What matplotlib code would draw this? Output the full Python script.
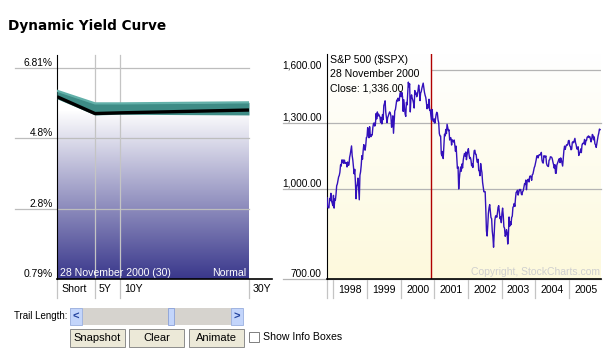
import numpy as np
import pandas as pd
import matplotlib
matplotlib.use('Agg')
import matplotlib.pyplot as plt
from matplotlib.patches import Rectangle
from matplotlib.lines import Line2D
from matplotlib.colors import LinearSegmentedColormap

# ---- yield curve data (percent) ----
tenor_labels = ['Short', '5Y', '10Y', '30Y']
tenor_years = [0.25, 5, 10, 30]
yield_now = [5.99, 5.51, 5.53, 5.61]
trail_high = [6.16, 5.80, 5.80, 5.83]
trail_low = [5.93, 5.47, 5.49, 5.47]
yield_ticks = [6.81, 4.8, 2.8, 0.79]
yield_tick_labels = ['6.81%', '4.8%', '2.8%', '0.79%']

# ---- S&P 500 weekly closes ----
spx_1997 = [966, 932, 928, 928, 963, 955, 983, 953, 946, 936]
spx_1998 = [975, 927, 961, 957, 980, 1013, 1020, 1034, 1049, 1055, 1069, 1100, 1095,
            1122, 1110, 1122, 1107, 1121, 1108, 1108, 1110, 1091, 1113, 1098, 1100, 1133,
            1147, 1165, 1186, 1141, 1121, 1090, 1062, 1081, 1027, 962, 1009, 1020, 1044,
            1002, 958, 1056, 1070, 1098, 1141, 1125, 1164, 1192, 1176, 1166, 1188, 1226, 1229]
spx_1999 = [1275, 1243, 1225, 1280, 1239, 1230, 1240, 1238, 1275, 1295, 1299, 1283,
            1293, 1348, 1320, 1357, 1335, 1345, 1338, 1330, 1302, 1328, 1294, 1343, 1316,
            1391, 1403, 1418, 1356, 1329, 1300, 1327, 1336, 1348, 1357, 1351, 1336, 1277,
            1282, 1336, 1247, 1301, 1362, 1370, 1397, 1422, 1417, 1433, 1418, 1421, 1458, 1469]
spx_2000 = [1441, 1465, 1441, 1360, 1424, 1387, 1346, 1333, 1409, 1395, 1464, 1527, 1499,
            1517, 1357, 1434, 1452, 1433, 1421, 1406, 1378, 1477, 1457, 1464, 1441, 1455,
            1478, 1509, 1480, 1419, 1462, 1471, 1491, 1507, 1521, 1495, 1466, 1449, 1437,
            1408, 1374, 1396, 1379, 1427, 1366, 1367, 1336, 1315, 1370, 1313, 1305, 1320]
spx_2001 = [1298, 1318, 1342, 1355, 1349, 1315, 1301, 1246, 1234, 1233, 1150, 1140, 1160,
            1128, 1183, 1242, 1234, 1266, 1245, 1292, 1277, 1260, 1264, 1214, 1225, 1224,
            1190, 1215, 1210, 1205, 1214, 1190, 1161, 1185, 1133, 1085, 1092, 1000, 1041,
            1071, 1091, 1073, 1104, 1087, 1120, 1139, 1151, 1139, 1158, 1123, 1145, 1161]
spx_2002 = [1173, 1146, 1128, 1133, 1122, 1096, 1104, 1089, 1132, 1164, 1166, 1148, 1147,
            1122, 1111, 1125, 1076, 1073, 1054, 1106, 1083, 1067, 1027, 1007, 989, 990,
            989, 921, 847, 830, 864, 908, 928, 940, 916, 893, 889, 846, 827, 794, 835, 884,
            897, 900, 894, 909, 930, 936, 912, 889, 895, 875]
spx_2003 = [908, 927, 901, 861, 856, 829, 834, 851, 841, 804, 833, 895, 863, 878, 868,
            893, 898, 930, 933, 944, 933, 964, 987, 988, 995, 976, 985, 998, 994, 998,
            980, 977, 990, 993, 1008, 1021, 1018, 1036, 997, 1029, 1038, 1039, 1028, 1051,
            1053, 1050, 1035, 1058, 1061, 1074, 1088, 1095]
spx_2004 = [1108, 1122, 1140, 1141, 1131, 1142, 1146, 1145, 1145, 1156, 1120, 1110, 1108,
            1141, 1139, 1134, 1140, 1107, 1098, 1095, 1093, 1121, 1123, 1136, 1135, 1134,
            1126, 1112, 1101, 1086, 1101, 1064, 1064, 1099, 1107, 1114, 1123, 1128, 1110,
            1131, 1122, 1108, 1095, 1130, 1166, 1185, 1170, 1183, 1191, 1189, 1194, 1211, 1212]
spx_2005 = [1186, 1184, 1168, 1171, 1203, 1206, 1201, 1211, 1222, 1201, 1190, 1172, 1172,
            1182, 1142, 1152, 1157, 1172, 1155, 1190, 1198, 1197, 1201, 1217, 1191, 1211,
            1212, 1228, 1229, 1234, 1226, 1231, 1220, 1205, 1218, 1241, 1237, 1215, 1229,
            1196, 1191, 1179, 1198, 1220, 1235, 1248, 1268, 1265]
spx_close = spx_1997 + spx_1998 + spx_1999 + spx_2000 + spx_2001 + spx_2002 + spx_2003 + spx_2004 + spx_2005
spx_dates = pd.date_range('1997-10-24', periods=len(spx_close), freq='7D')
marker_date = pd.Timestamp('2000-11-28')
marker_close = 1336.00
years = list(range(1998, 2006))
spx_ticks = [1600, 1300, 1000, 700]

W, H = 615, 356
fig = plt.figure(figsize=(W / 100, H / 100), dpi=100)
fig.patch.set_facecolor('white')
plt.rcParams['font.family'] = ['Liberation Sans', 'DejaVu Sans']

def fx(px):
    return px / W

def fy(py):
    return 1 - py / H

fig.text(fx(8), fy(30), 'Dynamic Yield Curve', fontsize=9.8, fontweight='bold',
         family='DejaVu Sans', va='baseline', ha='left')

# ================= left: yield curve =================
ax = fig.add_axes([fx(57), fy(279), 192 / W, 224 / H])
spacing = [0, 38, 63, 192]
ax.set_xscale('function', functions=(lambda t: np.interp(t, tenor_years, spacing),
                                     lambda p: np.interp(p, spacing, tenor_years)))
ax.set_xlim(tenor_years[0], tenor_years[-1])
ax.set_ylim(0.79, 7.18)
ax.set_facecolor('white')

navy = LinearSegmentedColormap.from_list('yc', ['#ffffff', '#3a388c'])
grad = np.linspace(0, 1, 256).reshape(-1, 1)
ax.imshow(grad, cmap=navy, aspect='auto', extent=[tenor_years[0], tenor_years[-1], 0.79, 5.6],
          origin='upper', zorder=0.5, interpolation='bilinear')
ax.set_xlim(tenor_years[0], tenor_years[-1])
ax.set_ylim(0.79, 7.18)

for v in yield_ticks[:-1]:
    ax.axhline(v, xmin=-42 / 192, xmax=1, color='#bdbdbd', lw=0.9, clip_on=False, zorder=1)
for t in tenor_years[1:3]:
    ax.axvline(t, ymin=-19 / 224, ymax=1, color='#c4c4c4', lw=0.9, clip_on=False, zorder=1)
for t in [tenor_years[0], tenor_years[-1]]:
    ax.axvline(t, ymin=-19 / 224, ymax=0, color='#c4c4c4', lw=0.9, clip_on=False, zorder=1)

ax.fill_between(tenor_years, trail_low, trail_high, color='#3e8c86', zorder=3, lw=0)
ax.plot(tenor_years, trail_high, color='#62b0a9', lw=1.6, zorder=3.2)
ax.plot(tenor_years, yield_now, color='black', lw=2.4, zorder=4, solid_capstyle='butt')

for s in ['top', 'right', 'bottom']:
    ax.spines[s].set_visible(False)
ax.spines['left'].set_color('black')
ax.add_line(Line2D([0, 215 / 192], [0, 0], transform=ax.transAxes, color='black', lw=1.2,
                   clip_on=False, zorder=5))
ax.set_xticks([])
ax.set_yticks(yield_ticks)
ax.set_yticklabels(yield_tick_labels, fontsize=7.4, va='bottom')
ax.tick_params(axis='y', length=0, pad=3)
ax.set_xticks([], minor=True)
for lab, t in zip(tenor_labels, tenor_years):
    ax.annotate(lab, xy=(t, 0), xycoords=('data', 'axes fraction'), xytext=(4, -10),
                textcoords='offset pixels', ha='left', va='center', fontsize=7.6,
                annotation_clip=False)
ax.text(0.015, 0.005, '28 November 2000 (30)', transform=ax.transAxes, color='white',
        fontsize=7.6, ha='left', va='bottom', zorder=6)
ax.text(0.985, 0.005, 'Normal', transform=ax.transAxes, color='white',
        fontsize=7.6, ha='right', va='bottom', zorder=6)

# ================= right: S&P 500 =================
pos = [fx(327), fy(279), 274 / W, 225 / H]
bg = fig.add_axes(pos, zorder=0)
cream = LinearSegmentedColormap.from_list('cr', ['#ffffff', '#fdf9dc'])
bg.imshow(grad, cmap=cream, aspect='auto', extent=[0, 1, 0, 1], origin='upper')
bg.axis('off')

ax2 = fig.add_axes(pos, zorder=1)
ax2.patch.set_alpha(0)
ax2.set_yscale('log')
ax2.set_ylim(700, 1707)
ax2.set_xlim(spx_dates[0], spx_dates[-1] + pd.Timedelta(days=10))
for v in spx_ticks:
    if v == spx_ticks[0]:
        ax2.hlines(v, marker_date, ax2.get_xlim()[1], color='#b4b4b4', lw=0.9, zorder=1)
    else:
        ax2.axhline(v, xmin=-44 / 274, xmax=1, color='#b4b4b4', lw=0.9, clip_on=False, zorder=1)
ax2.plot(spx_dates, spx_close, color='#3311bb', lw=1.0, zorder=3)
ax2.axvline(marker_date, color='#b00000', lw=1.0, zorder=2)

for s in ['top', 'right']:
    ax2.spines[s].set_visible(False)
ax2.spines['left'].set_color('black')
ax2.spines['bottom'].set_color('black')
ax2.spines['bottom'].set_linewidth(1.2)
ax2.set_yticks(spx_ticks)
ax2.set_yticklabels([f'{v:,.2f}' for v in spx_ticks], fontsize=7.3, va='bottom')
ax2.yaxis.set_minor_locator(matplotlib.ticker.NullLocator())
ax2.tick_params(axis='y', which='both', length=0, pad=4)
ax2.set_xticks([])
ax2.axvline(spx_dates[0], ymin=-19 / 225, ymax=0, color='#c4c4c4', lw=0.9, clip_on=False)
for y in years:
    ax2.axvline(pd.Timestamp(f'{y}-01-01'), ymin=-19 / 225, ymax=0, color='#c4c4c4', lw=0.9,
                clip_on=False)
    ax2.annotate(str(y), xy=(pd.Timestamp(f'{y}-07-02'), 0), xycoords=('data', 'axes fraction'),
                 xytext=(0, -11), textcoords='offset pixels', ha='center', va='center',
                 fontsize=7.6, annotation_clip=False)

ax2.text(0.012, 0.975, 'S&P 500 ($SPX)', transform=ax2.transAxes, fontsize=7.6, va='center')
ax2.text(0.012, 0.91, marker_date.strftime('%d %B %Y'), transform=ax2.transAxes,
         fontsize=7.6, va='center')
ax2.text(0.012, 0.845, f'Close: {marker_close:,.2f}', transform=ax2.transAxes,
         fontsize=7.6, va='center')
ax2.text(0.998, 0.01, 'Copyright, StockCharts.com', transform=ax2.transAxes, fontsize=7.5,
         color='#cfcfcf', ha='right', va='bottom')

# ================= controls =================
def rect(x, y, w, h, **kw):
    fig.add_artist(Rectangle((fx(x), fy(y + h)), w / W, h / H, transform=fig.transFigure, **kw))

fig.text(fx(14), fy(316), 'Trail Length:', fontsize=7.0, va='center')
rect(70, 308, 173, 17, facecolor='#d6d3ce', edgecolor='none')
rect(70, 308, 12, 17, facecolor='#c3d5fb', edgecolor='#9ab0e0', lw=0.6)
rect(231, 308, 12, 17, facecolor='#c3d5fb', edgecolor='#9ab0e0', lw=0.6)
rect(168, 308, 6, 17, facecolor='#c3d5fb', edgecolor='#8aa0d8', lw=0.6)
fig.text(fx(76), fy(316.5), '<', fontsize=8, fontweight='bold', color='#23439e',
         ha='center', va='center')
fig.text(fx(237), fy(316.5), '>', fontsize=8, fontweight='bold', color='#23439e',
         ha='center', va='center')

for label, x0 in [('Snapshot', 70), ('Clear', 129), ('Animate', 189)]:
    rect(x0, 329, 55, 18, facecolor='#ece9d8', edgecolor='#8c8c8c', lw=0.7)
    fig.text(fx(x0 + 27.5), fy(338), label, fontsize=8.0, ha='center', va='center')
rect(249, 332, 10, 10, facecolor='white', edgecolor='#7f7f7f', lw=0.7)
fig.text(fx(263), fy(337.5), 'Show Info Boxes', fontsize=7.6, ha='left', va='center')

fig.savefig('out.png', dpi=100, facecolor='white')
